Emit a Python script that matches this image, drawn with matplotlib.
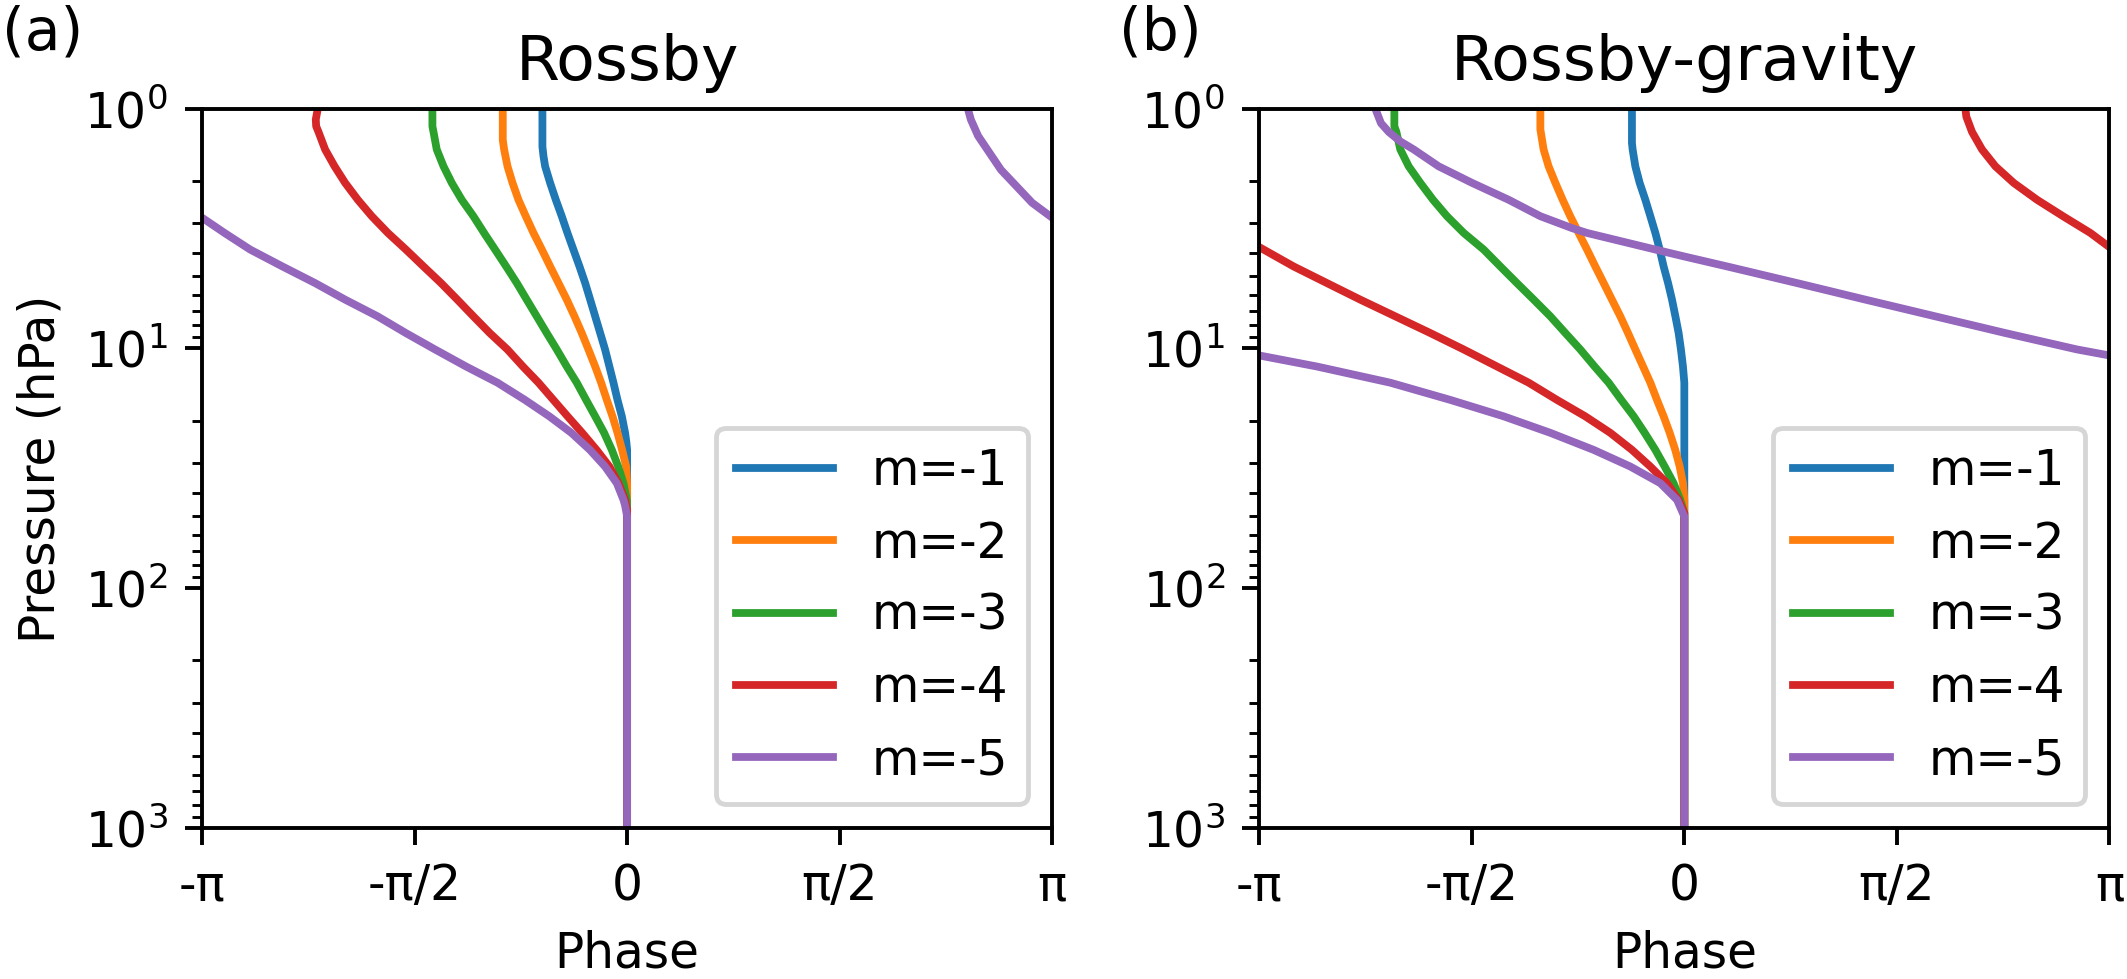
import numpy as np
import matplotlib
matplotlib.use("Agg")
import matplotlib.pyplot as plt

PI = np.pi
TWO_PI = 2 * np.pi

labels = ["m=-1", "m=-2", "m=-3", "m=-4", "m=-5"]
colors = ["C0", "C1", "C2", "C3", "C4"]
titles = ["Rossby", "Rossby-gravity"]
panel_tags = ["(a)", "(b)"]
xtick_vals = [-PI, -PI / 2, 0, PI / 2, PI]
xtick_labels = ["-π", "-π/2", "0", "π/2", "π"]

# ---------------- Panel (a): Rossby  (pressure in hPa, unwrapped phase in rad)
a_p_m1 = [1, 1.44, 1.58, 1.74, 2.04, 2.40, 2.81, 3.30, 3.87, 4.55, 5.34, 6.26, 7.35, 8.63, 10.1,
          11.9, 13.9, 16.4, 19.2, 22.5, 24.5, 26.5, 1000]
a_ph_m1 = [-0.626, -0.626, -0.618, -0.606, -0.569, -0.527, -0.483, -0.441, -0.397, -0.352, -0.310,
           -0.273, -0.236, -0.199, -0.163, -0.131, -0.101, -0.071, -0.039, -0.015, -0.006, 0.0, 0.0]

a_p_m2 = [1, 1.35, 1.48, 1.74, 2.04, 2.40, 2.81, 3.30, 3.87, 4.55, 5.34, 6.26, 7.35, 8.63, 10.1,
          11.9, 13.9, 16.4, 19.2, 22.5, 26.5, 31.1, 36.5, 1000]
a_ph_m2 = [-0.919, -0.919, -0.909, -0.884, -0.847, -0.803, -0.749, -0.692, -0.630, -0.569, -0.507,
           -0.446, -0.389, -0.335, -0.286, -0.236, -0.192, -0.150, -0.108, -0.071, -0.037, -0.007, 0.0, 0.0]

a_p_m3 = [1, 1.185, 1.25, 1.48, 1.74, 2.04, 2.40, 2.81, 3.30, 3.87, 4.55, 5.34, 6.26, 7.35, 8.63,
          10.1, 11.9, 13.9, 16.4, 19.2, 22.5, 26.5, 31.1, 36.5, 42.8, 47.1, 1000]
a_ph_m3 = [-1.439, -1.439, -1.431, -1.407, -1.357, -1.296, -1.222, -1.136, -1.057, -0.976, -0.894,
           -0.815, -0.742, -0.668, -0.594, -0.520, -0.446, -0.372, -0.303, -0.236, -0.170, -0.113,
           -0.066, -0.027, -0.002, 0.0, 0.0]

a_p_m4 = [1, 1.11, 1.185, 1.25, 1.48, 1.74, 2.04, 2.40, 2.81, 3.30, 3.87, 4.55, 5.34, 6.26, 7.35,
          8.63, 10.1, 11.9, 13.9, 16.4, 19.2, 22.5, 26.5, 31.1, 36.5, 42.8, 47.1, 1000]
a_ph_m4 = [-2.286, -2.301, -2.298, -2.281, -2.232, -2.162, -2.084, -1.990, -1.887, -1.768, -1.635,
           -1.505, -1.375, -1.255, -1.136, -1.015, -0.885, -0.770, -0.655, -0.545, -0.440, -0.332,
           -0.226, -0.131, -0.064, -0.015, 0.0, 0.0]

a_p_m5 = [1, 1.11, 1.30, 1.80, 2.47, 2.85, 3.30, 3.87, 4.55, 5.34, 6.26, 7.35, 8.63, 10.1, 11.9,
          13.9, 16.4, 19.2, 22.5, 26.5, 31.1, 36.5, 42.8, 45.2, 50.2, 1000]
a_ph_m5 = [-3.765, -3.743, -3.689, -3.520, -3.290, -3.1416, -2.975, -2.786, -2.548, -2.306, -2.084,
           -1.844, -1.635, -1.420, -1.190, -0.958, -0.755, -0.575, -0.412, -0.275, -0.163, -0.076,
           -0.027, -0.015, 0.0, 0.0]

# ---------------- Panel (b): Rossby-gravity
b_p_m1 = [1, 1.39, 1.48, 1.74, 2.04, 2.40, 2.81, 3.30, 3.87, 4.55, 5.34, 6.26, 7.35, 8.63, 10.1,
          11.9, 13.9, 1000]
b_ph_m1 = [-0.387, -0.387, -0.382, -0.362, -0.330, -0.288, -0.251, -0.214, -0.182, -0.153, -0.120,
           -0.091, -0.066, -0.042, -0.025, -0.010, 0.0, 0.0]

b_p_m2 = [1, 1.22, 1.48, 1.74, 2.04, 2.40, 2.81, 3.30, 3.87, 4.55, 5.34, 6.26, 7.35, 8.63, 10.1,
          11.9, 13.9, 16.4, 19.2, 22.5, 26.5, 31.1, 36.5, 42.8, 1000]
b_ph_m2 = [-1.064, -1.064, -1.040, -1.003, -0.953, -0.899, -0.843, -0.781, -0.719, -0.658, -0.596,
           -0.535, -0.473, -0.416, -0.362, -0.305, -0.251, -0.202, -0.153, -0.108, -0.067, -0.034,
           -0.010, 0.0, 0.0]

b_p_m3 = [1, 1.185, 1.25, 1.48, 1.74, 2.04, 2.40, 2.81, 3.30, 3.87, 4.55, 5.34, 6.26, 7.35, 8.63,
          10.1, 11.9, 13.9, 16.4, 19.2, 22.5, 26.5, 31.1, 36.5, 42.8, 48.6, 1000]
b_ph_m3 = [-2.143, -2.143, -2.128, -2.099, -2.037, -1.951, -1.857, -1.754, -1.630, -1.483, -1.360,
           -1.237, -1.113, -0.990, -0.879, -0.769, -0.663, -0.559, -0.466, -0.374, -0.293, -0.214,
           -0.145, -0.079, -0.030, 0.0, 0.0]

b_p_m4 = [1, 1.08, 1.25, 1.48, 1.74, 2.04, 2.40, 2.81, 3.30, 3.78, 4.55, 5.34, 6.26, 7.35, 8.63,
          10.1, 11.9, 13.9, 16.4, 19.2, 22.5, 26.5, 31.1, 36.5, 42.8, 48.6, 1000]
b_ph_m4 = [-4.206, -4.199, -4.157, -4.083, -3.984, -3.849, -3.676, -3.484, -3.282, -3.1416, -2.888,
           -2.641, -2.395, -2.136, -1.877, -1.631, -1.384, -1.150, -0.941, -0.732, -0.547, -0.387,
           -0.251, -0.128, -0.042, 0.0, 0.0]

b_p_m5 = [1, 1.15, 1.25, 1.37, 1.48, 1.74, 2.04, 2.40, 2.81, 3.15, 3.30, 3.87, 4.13, 4.55, 5.34,
          6.26, 7.35, 8.63, 10.1, 10.7, 11.9, 13.9, 16.4, 19.2, 22.5, 26.5, 31.1, 36.5, 42.8, 50.2, 1000]
b_ph_m5 = [-8.567, -8.525, -8.468, -8.382, -8.283, -8.099, -7.852, -7.581, -7.347, -7.113, -7.002,
           -6.497, -6.288, -5.968, -5.450, -4.945, -4.428, -3.910, -3.381, -3.1416, -2.715, -2.173,
           -1.729, -1.335, -0.990, -0.670, -0.399, -0.177, -0.054, 0.0, 0.0]

panel_a = [(a_p_m1, a_ph_m1), (a_p_m2, a_ph_m2), (a_p_m3, a_ph_m3), (a_p_m4, a_ph_m4), (a_p_m5, a_ph_m5)]
panel_b = [(b_p_m1, b_ph_m1), (b_p_m2, b_ph_m2), (b_p_m3, b_ph_m3), (b_p_m4, b_ph_m4), (b_p_m5, b_ph_m5)]

W, H, DPI = 2127, 979, 350
fig = plt.figure(figsize=((W + 0.4) / DPI, (H + 0.4) / DPI), dpi=DPI)
ax_a = fig.add_axes([202 / W, 1 - 828 / H, 850 / W, 719 / H])
ax_b = fig.add_axes([1259 / W, 1 - 828 / H, 850 / W, 719 / H])


def draw_panel(ax, curves, title):
    for (p, ph), c, lab in zip(curves, colors, labels):
        p = np.asarray(p, dtype=float)
        ph = np.asarray(ph, dtype=float)
        # phase is periodic: draw the wrapped copies, the axes clip to [-π, π]
        for k in (-1, 0, 1):
            ax.plot(ph + k * TWO_PI, p, color=c, lw=1.6, label=lab if k == 0 else None,
                    solid_joinstyle="round")
    ax.set_yscale("log")
    ax.set_ylim(1000, 1)
    ax.set_xlim(-PI, PI)
    ax.set_xticks(xtick_vals)
    ax.set_xticklabels(xtick_labels)
    ax.set_xlabel("Phase")
    ax.set_title(title, fontsize=13)
    ax.legend(loc="lower right")


draw_panel(ax_a, panel_a, titles[0])
draw_panel(ax_b, panel_b, titles[1])
ax_a.set_ylabel("Pressure (hPa)")

fig.text(2 / W, 1 - 49 / H, panel_tags[0], fontsize=12, va="baseline", ha="left")
fig.text(1119 / W, 1 - 49 / H, panel_tags[1], fontsize=12, va="baseline", ha="left")

fig.savefig("out.png", dpi=DPI)
